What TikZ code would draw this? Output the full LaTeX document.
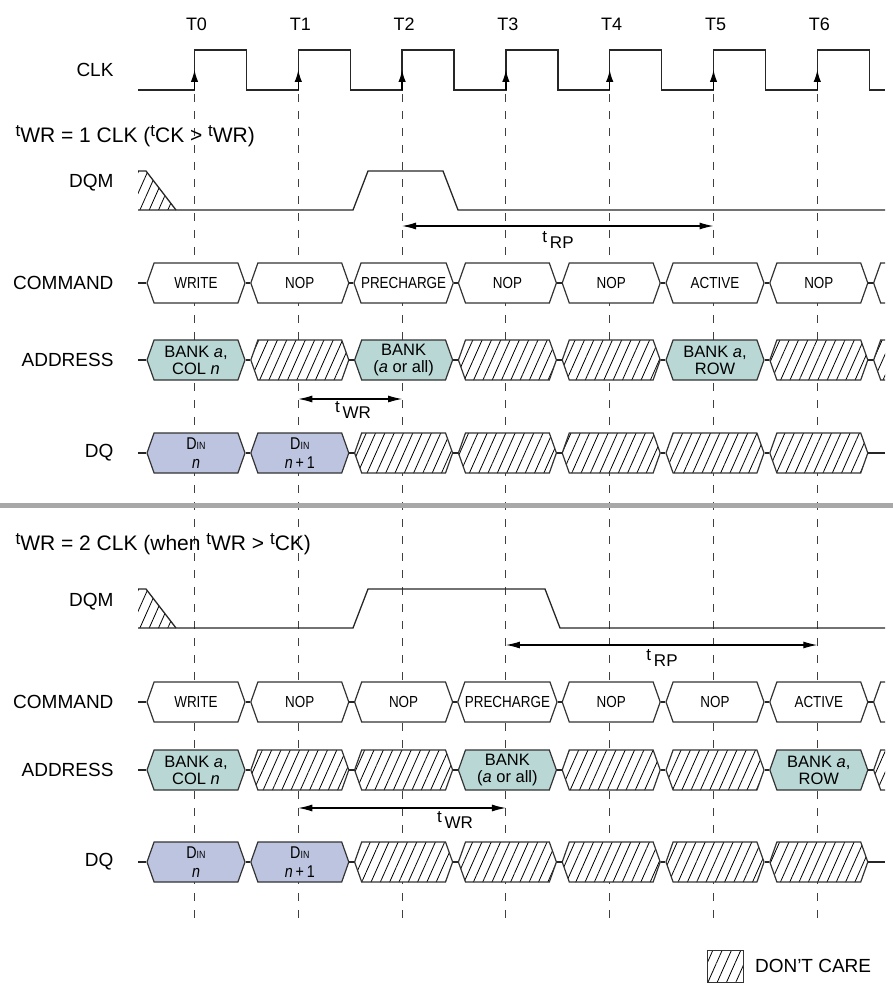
\documentclass[tikz,border=0pt]{standalone}
\usepackage{fontspec}
\setmainfont{Liberation Sans}
\newfontfamily\narrowfont[FakeStretch=0.84]{Liberation Sans}
\usetikzlibrary{positioning,shapes.symbols,patterns.meta,arrows.meta}
\definecolor{bankfill}{RGB}{185,216,213}
\definecolor{dinfill}{RGB}{189,196,223}
\definecolor{sepgray}{RGB}{168,168,168}
\newcommand\dinlabel{D{\fontsize{10.5}{10.5}\selectfont IN}}
\newcommand\supt{\raisebox{5.5pt}{\fontsize{17}{17}\selectfont t}}

\begin{document}
\begin{tikzpicture}[x=1pt,y=-1pt,
	wave/.style={line width=1.3pt,draw=black!85},
	tick/.style={line width=0.9pt,draw=black!75,dash pattern=on 8pt off 9pt},
	hatch/.style={pattern={Lines[angle=66,distance=8.5pt,line width=0.8pt]}},
	sig/.style={signal,signal to=west and east,signal pointer angle=141,
		minimum width=98pt,minimum height=40pt,inner sep=0pt,align=center,
		draw=black!80,line width=1.2pt},
	cmd/.style={sig,fill=white,font=\narrowfont\fontsize{16}{16}\selectfont},
	bank/.style={sig,fill=bankfill,font=\fontsize{16.5}{17}\selectfont},
	din/.style={sig,fill=dinfill,font=\narrowfont\fontsize{17}{17}\selectfont},
	dc/.style={sig,preaction={fill=white},hatch},
	lbl/.style={anchor=east,font=\fontsize{19}{19}\selectfont},
	cond/.style={anchor=west,font=\fontsize{21}{21}\selectfont},
	span/.style={{Latex[length=14pt,width=7pt]}-{Latex[length=14pt,width=7pt]},line width=1.1pt},
	dur/.style={font=\fontsize{17}{17}\selectfont}]

\useasboundingbox (0,0) rectangle (893,984);

\foreach \i in {0,...,7}
	\coordinate (T\i) at ({194.5+103.8*\i},0);
\foreach \i in {0,...,6}{
	\node[font=\fontsize{18}{18}\selectfont] (tl\i) at ([xshift=2pt]T\i |- 0,24) {T\i};
	\draw[tick] (T\i |- 0,94) -- (T\i |- 0,920);
}

% clock
\node[lbl] (clk) at (117,70) {CLK};
\draw[wave] (138,90) \foreach \i in {0,...,6}{ -- (T\i |- 0,90) -- (T\i |- 0,50) -- ++(52,0) -- ++(0,40)} -- (885,90);
\foreach \i in {0,...,6}
	\draw[-{Latex[length=12pt,width=7.5pt]},line width=1.3pt] (T\i |- 0,90) -- (T\i |- 0,70);

% tWR = 1 CLK
\node[cond] (condA) at (12,136) {\supt WR = 1 CLK (\supt CK > \supt WR)};
\node[lbl] (dqmA) at (117,183) {DQM};
\fill[hatch] (138,171) -- (146,171) -- (176,210) -- (138,210) -- cycle;
\draw[wave] (138,171) -- (146,171) -- (176,210);
\draw[wave] (138,210) -- (353,210) -- (368,171) -- (443,171) -- (458,210) -- (885,210);
\draw[span] (T2 |- 0,226) -- (T5 |- 0,226);
\node[dur] (trpA) at (558,240) {t\raisebox{-6pt}{\,RP}};

\begin{scope}
\clip (0,0) rectangle (885,984);
\node[lbl] (cmdA) at (117,283) {COMMAND};
\foreach \txt [count=\i from 0] in {WRITE,NOP,PRECHARGE,NOP,NOP,ACTIVE,NOP,{}}
	\node[cmd] (cmdA-\i) at ([xshift=1.5pt]T\i |- 0,283) {\txt};
\draw[wave] (138,283) -- (cmdA-0.west);
\foreach \i [evaluate=\i as \j using int(\i+1)] in {0,...,6}
	\draw[wave] (cmdA-\i.east) -- (cmdA-\j.west);

\node[lbl] (adrA) at (117,360) {ADDRESS};
\foreach \kind/\txt [count=\i from 0] in {bank/{BANK \textit{a},\\COL \textit{n}},dc/{},bank/{BANK\\(\textit{a} or all)},dc/{},dc/{},bank/{BANK \textit{a},\\ROW},dc/{},dc/{}}
	\node[\kind] (adrA-\i) at ([xshift=1.5pt]T\i |- 0,360) {\txt};
\draw[wave] (138,360) -- (adrA-0.west);
\foreach \i [evaluate=\i as \j using int(\i+1)] in {0,...,6}
	\draw[wave] (adrA-\i.east) -- (adrA-\j.west);
\end{scope}

\draw[span] (T1 |- 0,399) -- (T2 |- 0,399);
\node[dur] (twrA) at (353,410) {t\raisebox{-6pt}{\,WR}};

\node[lbl] (dqA) at (117,453) {DQ};
\foreach \kind/\txt [count=\i from 0] in {din/{\dinlabel\\[2pt]\textit{n}},din/{\dinlabel\\[2pt]\textit{n}\,+\,1},dc/{},dc/{},dc/{},dc/{},dc/{}}
	\node[\kind] (dqA-\i) at ([xshift=1.5pt]T\i |- 0,453) {\txt};
\draw[wave] (138,453) -- (dqA-0.west);
\foreach \i [evaluate=\i as \j using int(\i+1)] in {0,...,5}
	\draw[wave] (dqA-\i.east) -- (dqA-\j.west);
\draw[wave] (dqA-6.east) -- (885,453);

\draw[sepgray,line width=5pt] (0,505) -- (893,505);

% tWR = 2 CLK
\node[cond] (condB) at (12,544) {\supt WR = 2 CLK (when \supt WR > \supt CK)};
\node[lbl] (dqmB) at (117,602) {DQM};
\fill[hatch] (138,589) -- (146,589) -- (176,628) -- (138,628) -- cycle;
\draw[wave] (138,589) -- (146,589) -- (176,628);
\draw[wave] (138,628) -- (353,628) -- (368,589) -- (545,589) -- (560,628) -- (885,628);
\draw[span] (T3 |- 0,645) -- (T6 |- 0,645);
\node[dur] (trpB) at (662,658) {t\raisebox{-6pt}{\,RP}};

\begin{scope}
\clip (0,0) rectangle (885,984);
\node[lbl] (cmdB) at (117,702) {COMMAND};
\foreach \txt [count=\i from 0] in {WRITE,NOP,NOP,PRECHARGE,NOP,NOP,ACTIVE,{}}
	\node[cmd] (cmdB-\i) at ([xshift=1.5pt]T\i |- 0,702) {\txt};
\draw[wave] (138,702) -- (cmdB-0.west);
\foreach \i [evaluate=\i as \j using int(\i+1)] in {0,...,6}
	\draw[wave] (cmdB-\i.east) -- (cmdB-\j.west);

\node[lbl] (adrB) at (117,770) {ADDRESS};
\foreach \kind/\txt [count=\i from 0] in {bank/{BANK \textit{a},\\COL \textit{n}},dc/{},dc/{},bank/{BANK\\(\textit{a} or all)},dc/{},dc/{},bank/{BANK \textit{a},\\ROW},dc/{}}
	\node[\kind] (adrB-\i) at ([xshift=1.5pt]T\i |- 0,770) {\txt};
\draw[wave] (138,770) -- (adrB-0.west);
\foreach \i [evaluate=\i as \j using int(\i+1)] in {0,...,6}
	\draw[wave] (adrB-\i.east) -- (adrB-\j.west);
\end{scope}

\draw[span] (T1 |- 0,808) -- (T3 |- 0,808);
\node[dur] (twrB) at (455,820) {t\raisebox{-6pt}{\,WR}};

\node[lbl] (dqB) at (117,862) {DQ};
\foreach \kind/\txt [count=\i from 0] in {din/{\dinlabel\\[2pt]\textit{n}},din/{\dinlabel\\[2pt]\textit{n}\,+\,1},dc/{},dc/{},dc/{},dc/{},dc/{}}
	\node[\kind] (dqB-\i) at ([xshift=1.5pt]T\i |- 0,862) {\txt};
\draw[wave] (138,862) -- (dqB-0.west);
\foreach \i [evaluate=\i as \j using int(\i+1)] in {0,...,5}
	\draw[wave] (dqB-\i.east) -- (dqB-\j.west);
\draw[wave] (dqB-6.east) -- (885,862);

% legend
\node[draw=black!80,line width=1pt,preaction={fill=white},hatch,
	minimum width=36pt,minimum height=32pt,inner sep=0pt] (dcbox) at (725,966) {};
\node[right=8pt of dcbox,font=\fontsize{19}{19}\selectfont] (dclbl) {DON’T CARE};
\end{tikzpicture}
\end{document}
